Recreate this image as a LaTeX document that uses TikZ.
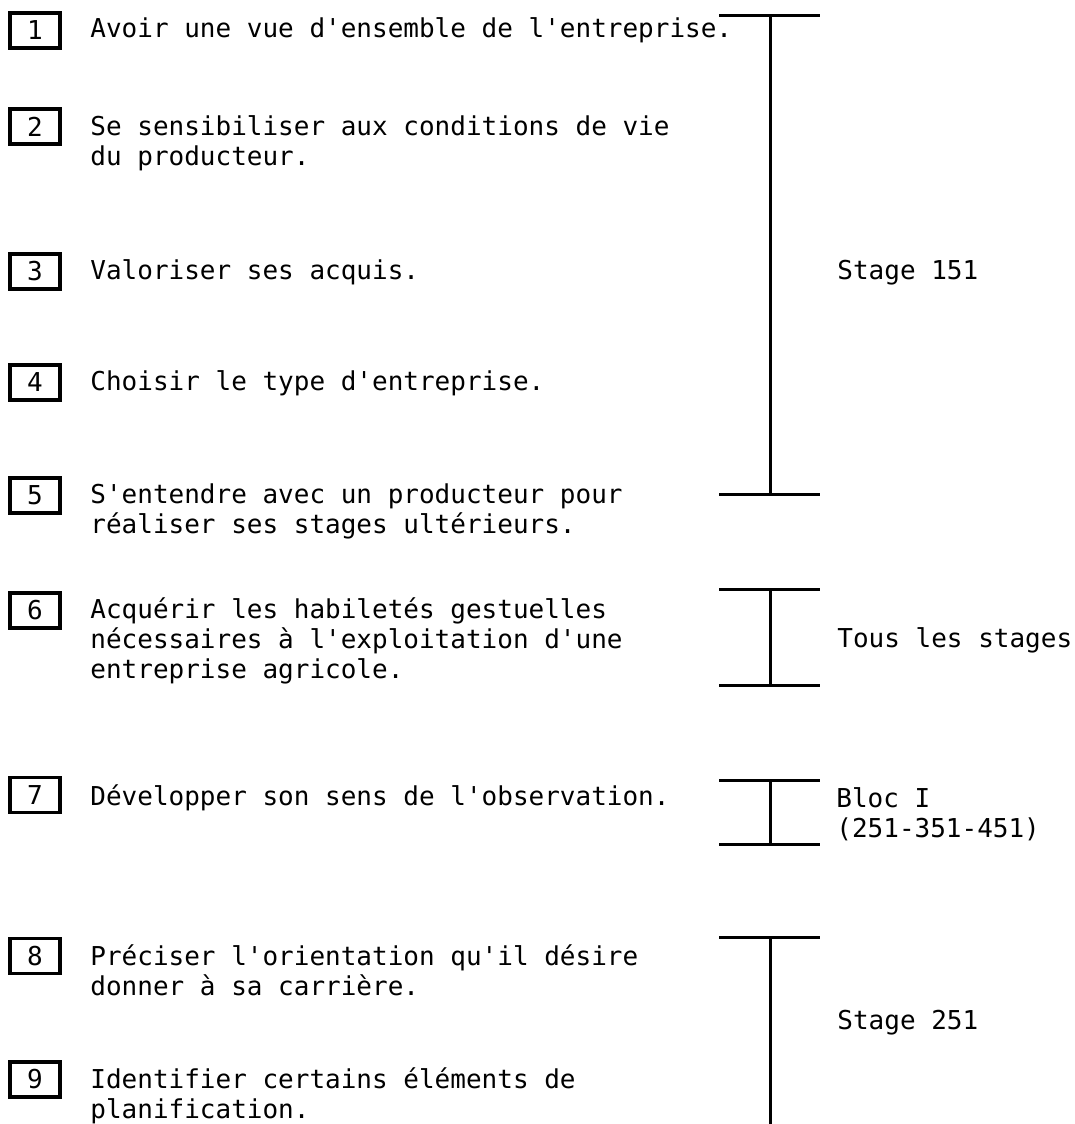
\documentclass[tikz,border=0pt]{standalone}
\usepackage{fontspec}
\setmonofont{DejaVu Sans Mono}
\usetikzlibrary{positioning}

\newcommand{\lignes}[1]{\begin{tabular}[t]{@{}l@{}}#1\end{tabular}}

\begin{document}
\begin{tikzpicture}[x=0.5pt, y=-0.5pt,
    every node/.style = {font=\ttfamily\fontsize{13}{15}\selectfont},
    numbox/.style = {draw, line width=1.9pt, minimum width=25pt, minimum height=17.5pt, inner sep=0pt},
    txt/.style = {anchor=base west, inner sep=0pt},
    bar/.style = {line width=1.5pt}]
  \useasboundingbox (0,0) rectangle (1075,1124);

  % objectifs
  \node[numbox] (b1) at (35,30.5) {1};
  \node[txt] (t1) at (90,38) {Avoir une vue d'ensemble de l'entreprise.};
  \node[numbox] (b2) at (35,126.5) {2};
  \node[txt] (t2) at (90,135) {\lignes{Se sensibiliser aux conditions de vie\\du producteur.}};
  \node[numbox] (b3) at (35,271.5) {3};
  \node[txt] (t3) at (90,279) {Valoriser ses acquis.};
  \node[numbox] (b4) at (35,382.5) {4};
  \node[txt] (t4) at (90,390) {Choisir le type d'entreprise.};
  \node[numbox] (b5) at (35,495.5) {5};
  \node[txt] (t5) at (90,503) {\lignes{S'entendre avec un producteur pour\\réaliser ses stages ultérieurs.}};
  \node[numbox] (b6) at (35,610.5) {6};
  \node[txt] (t6) at (90,618) {\lignes{Acquérir les habiletés gestuelles\\nécessaires à l'exploitation d'une\\entreprise agricole.}};
  \node[numbox] (b7) at (35,795) {7};
  \node[txt] (t7) at (90,805) {Développer son sens de l'observation.};
  \node[numbox] (b8) at (35,956) {8};
  \node[txt] (t8) at (90,965) {\lignes{Préciser l'orientation qu'il désire\\donner à sa carrière.}};
  \node[numbox] (b9) at (35,1079.5) {9};
  \node[txt] (t9) at (90,1088) {\lignes{Identifier certains éléments de\\planification.}};

  % stages
  \foreach \haut/\bas in {15/494, 589/685, 780/844}
    \draw[bar] (719,\haut) -- (820,\haut) (770,\haut) -- (770,\bas) (719,\bas) -- (820,\bas);
  \draw[bar] (719,937) -- (820,937) (770,937) -- (770,1124);

  \node[txt] (s1) at (837,279) {Stage 151};
  \node[txt] (s2) at (837,647) {Tous les stages};
  \node[txt] (s3) at (836,807) {\lignes{Bloc I\\(251-351-451)}};
  \node[txt] (s4) at (837,1029) {Stage 251};
\end{tikzpicture}
\end{document}
